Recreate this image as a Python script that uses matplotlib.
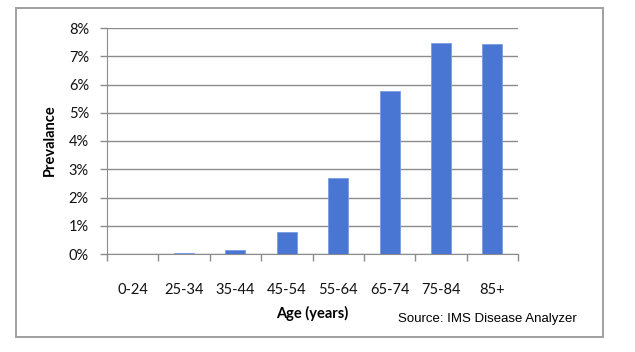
import matplotlib.pyplot as plt
from matplotlib.patches import Rectangle
from matplotlib.ticker import PercentFormatter

# Prevalence by age group (%)
age_groups = ["0-24", "25-34", "35-44", "45-54", "55-64", "65-74", "75-84", "85+"]
prevalence = [0.0, 0.03, 0.15, 0.77, 2.68, 5.78, 7.46, 7.42]

W, H = 635, 352
fig = plt.figure(figsize=(W / 100, H / 100), dpi=100)
fig.patch.set_facecolor("white")

# outer chart frame
frame = Rectangle((16 / W, 1 - 337 / H), (603 - 16) / W, (337 - 8) / H,
                  transform=fig.transFigure, fill=False, edgecolor="#a0a0a0",
                  linewidth=1.4)
fig.patches.append(frame)

ax = fig.add_axes([107 / W, 1 - 254 / H, (518 - 107) / W, (254 - 28) / H])

x = range(len(age_groups))
ax.bar(x, prevalence, width=0.39, color="#4a76d3", edgecolor="#7a9be0",
       linewidth=0.6, zorder=3)

ax.set_xlim(-0.5, len(age_groups) - 0.5)
ax.set_ylim(0, 8)
ax.set_yticks(range(0, 9))
ax.yaxis.set_major_formatter(PercentFormatter(decimals=0))
ax.grid(axis="y", color="#8c8c8c", linewidth=1.0, zorder=0)

# category labels centred, tick marks at boundaries
ax.set_xticks(list(x))
ax.set_xticklabels(age_groups)
ax.set_xticks([i - 0.5 for i in range(len(age_groups) + 1)], minor=True)
ax.tick_params(axis="x", which="major", length=0, pad=21)
ax.tick_params(axis="x", which="minor", length=5, color="#8c8c8c", width=1)
ax.tick_params(axis="y", length=5, color="#8c8c8c", width=1, pad=8)

for lbl in ax.get_xticklabels() + ax.get_yticklabels():
    lbl.set_fontfamily("Lato")
    lbl.set_fontsize(10.5)
    lbl.set_color("#111111")

for s in ["top", "right"]:
    ax.spines[s].set_visible(False)
ax.spines["left"].set_color("#8c8c8c")
ax.spines["bottom"].set_color("#8c8c8c")

fig.text(50 / W, 1 - 140 / H, "Prevalance", rotation=90, ha="center",
         va="center", fontsize=10.5, fontweight="bold", family="Lato")
fig.text(312 / W, 1 - 313 / H, "Age (years)", ha="center", va="center",
         fontsize=10.5, fontweight="bold", family="Lato")
fig.text(487 / W, 1 - 319 / H, "Source: IMS Disease Analyzer", ha="center",
         va="center", fontsize=9.5, family="Liberation Sans")

plt.savefig("out.png", dpi=100)
